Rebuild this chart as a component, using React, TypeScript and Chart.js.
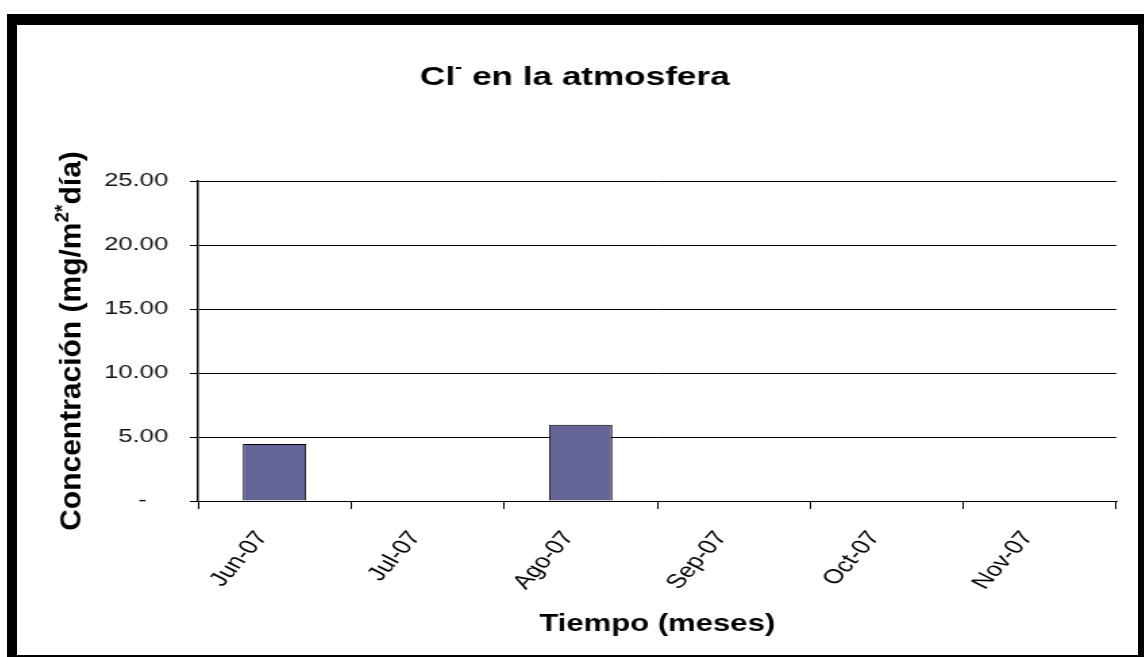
import React, { useEffect, useRef } from "react";
import { Chart, registerables } from "chart.js";

Chart.register(...registerables);

const categories = ["Jun-07", "Jul-07", "Ago-07", "Sep-07", "Oct-07", "Nov-07"];
const concentration: (number | null)[] = [4.45, null, 5.95, null, null, null];
const yMin = 0;
const yMax = 25;
const yStep = 5;
const titleMain = "Cl";
const titleSup = "-";
const titleRest = " en la atmosfera";
const yTitleMain = "Concentración (mg/m";
const yTitleSup = "2*";
const yTitleRest = "día)";
const xTitle = "Tiempo (meses)";

const FONT = "'Liberation Sans', Arial, 'DejaVu Sans', sans-serif";
const STRETCH = 1121 / 830;

const textPlugin = {
  id: "customTexts",
  afterDraw(chart: any) {
    const ctx: CanvasRenderingContext2D = chart.ctx;
    ctx.save();
    ctx.fillStyle = "#000";
    ctx.textBaseline = "alphabetic";
    ctx.textAlign = "left";

    // Chart title
    const tSize = 26;
    const bigT = `bold ${tSize}px ${FONT}`;
    const supT = `bold ${Math.round(tSize * 0.62)}px ${FONT}`;
    ctx.font = bigT;
    const w1 = ctx.measureText(titleMain).width;
    const w3 = ctx.measureText(titleRest).width;
    ctx.font = supT;
    const w2 = ctx.measureText(titleSup).width;
    const total = w1 + w2 + w3;
    const cx = 413;
    const baseY = 51 + tSize * 0.358;
    let x = cx - total / 2;
    ctx.font = bigT;
    ctx.fillText(titleMain, x, baseY);
    x += w1;
    ctx.font = supT;
    ctx.fillText(titleSup, x, baseY - tSize * 0.5);
    x += w2;
    ctx.font = bigT;
    ctx.fillText(titleRest, x, baseY);

    // Y axis title
    const ySize = 30;
    const bigY = `bold ${ySize}px ${FONT}`;
    const supY = `bold ${Math.round(ySize * 0.62)}px ${FONT}`;
    ctx.font = bigY;
    const a1 = ctx.measureText(yTitleMain).width;
    const a3 = ctx.measureText(yTitleRest).width;
    ctx.font = supY;
    const a2 = ctx.measureText(yTitleSup).width;
    const ytotal = a1 + a2 + a3;
    const area = chart.chartArea;
    const ycx = (70 - 17) / STRETCH;
    const ycy = (area.top + area.bottom) / 2;
    ctx.translate(ycx, ycy);
    ctx.scale(1 / STRETCH, 1);
    ctx.rotate(-Math.PI / 2);
    const yb = ySize * 0.358;
    let p = -ytotal / 2;
    ctx.font = bigY;
    ctx.fillText(yTitleMain, p, yb);
    p += a1;
    ctx.font = supY;
    ctx.fillText(yTitleSup, p, yb - ySize * 0.42);
    p += a2;
    ctx.font = bigY;
    ctx.fillText(yTitleRest, p, yb);
    ctx.restore();
  },
};

export default function App() {
  const ref = useRef<HTMLCanvasElement | null>(null);

  useEffect(() => {
    if (!ref.current) return;
    const chart = new Chart(ref.current, {
      type: "bar",
      data: {
        labels: categories,
        datasets: [
          {
            data: concentration as any,
            backgroundColor: "#646496",
            borderColor: "#000000",
            borderWidth: 1,
            barPercentage: 0.414,
            categoryPercentage: 1,
          },
        ],
      },
      plugins: [textPlugin],
      options: {
        responsive: false,
        animation: false,
        devicePixelRatio: 1,
        layout: { padding: { left: 0, right: 16, top: 156, bottom: 0 } },
        plugins: {
          legend: { display: false },
          tooltip: { enabled: false },
          title: { display: false },
        },
        scales: {
          x: {
            type: "category",
            offset: true,
            afterFit: (s: any) => {
              s.height = 154;
            },
            grid: {
              offset: true,
              drawOnChartArea: false,
              drawTicks: true,
              tickLength: 8,
              color: "#000",
            },
            border: { color: "#000", width: 1 },
            ticks: {
              maxRotation: 56,
              minRotation: 56,
              padding: 18,
              labelOffset: -9,
              color: "#000",
              font: { family: FONT, size: 20 },
            },
            title: {
              display: true,
              text: xTitle,
              color: "#000",
              font: { family: FONT, size: 23, weight: "bold" },
              padding: { top: 0, bottom: 17 },
            },
          },
          y: {
            min: yMin,
            max: yMax,
            afterFit: (s: any) => {
              s.width = 134;
            },
            grid: {
              color: "#000",
              lineWidth: 1,
              drawTicks: true,
              tickLength: 6,
            },
            border: { color: "#000", width: 1.5 },
            ticks: {
              stepSize: yStep,
              padding: 16,
              color: "#111",
              font: { family: FONT, size: 19 },
              callback: (v: any) => (Number(v) === 0 ? "-   " : Number(v).toFixed(2)),
            },
          },
        },
      },
    });
    return () => chart.destroy();
  }, []);

  return (
    <div
      style={{
        position: "fixed",
        left: 0,
        top: 0,
        width: 1144,
        height: 657,
        background: "#fff",
        overflow: "hidden",
      }}
    >
      <div
        style={{
          position: "absolute",
          left: 7,
          top: 14,
          width: 1137,
          height: 643,
          boxSizing: "border-box",
          borderTop: "11px solid #000",
          borderLeft: "10px solid #000",
          borderRight: "6px solid #000",
          borderBottom: "2px solid #000",
        }}
      />
      <canvas
        ref={ref}
        width={830}
        height={630}
        style={{
          position: "absolute",
          left: 17,
          top: 25,
          width: 830,
          height: 630,
          transform: `scaleX(${STRETCH})`,
          transformOrigin: "0 0",
        }}
      />
    </div>
  );
}
